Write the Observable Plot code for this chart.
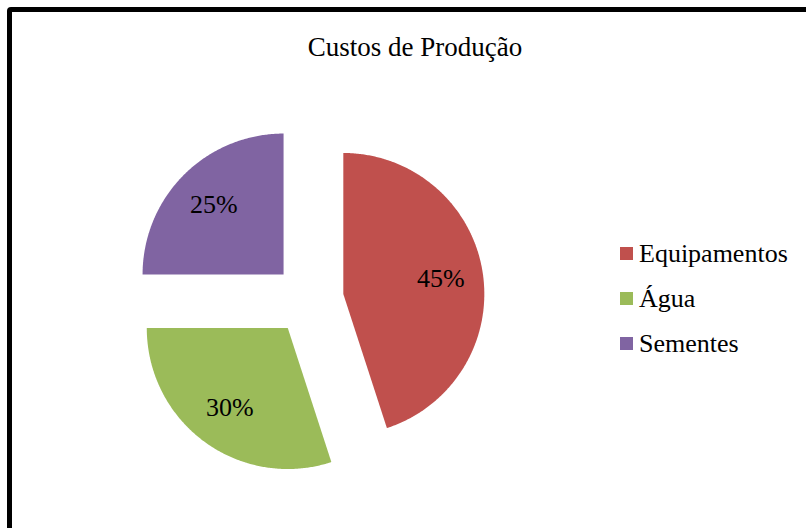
<!DOCTYPE html>
<html><head><meta charset="utf-8">
<script src="https://cdn.jsdelivr.net/npm/d3@7"></script>
<script src="https://cdn.jsdelivr.net/npm/@observablehq/plot@0.6"></script>
<style>
html,body{margin:0;padding:0;background:#fff;overflow:hidden;width:806px;height:528px}
#frame{position:absolute;left:7px;top:7px;width:900px;height:700px;border:5px solid #000;border-radius:4px;box-sizing:border-box}
#chart{position:absolute;left:0;top:0}
#title{position:absolute;left:215px;width:400px;top:34px;text-align:center;font:27px/26px "Liberation Serif","Times New Roman",serif;color:#000}
.row{position:absolute;left:620px;width:190px;height:14px}
.sw{position:absolute;left:0;top:0;width:13px;height:13px}
.lt{position:absolute;left:19px;top:-6px;font:26px/26px "Liberation Serif","Times New Roman",serif;color:#000;white-space:nowrap}
</style></head><body><div id="frame"></div><div id="chart"></div><div id="title"></div><div id="legend"></div>
<script>
const title = "Custos de Produção";
const categories = ["Equipamentos", "Água", "Sementes"];
const values = [45, 30, 25];
const labels = ["45%", "30%", "25%"];
const colors = ["#C0504D", "#9BBB59", "#8064A2"];

const explode = 0.25;      // offset of each slice (fraction of radius)
const labelR = 0.70;       // label distance from slice vertex
const total = d3.sum(values);

const pts = [];
const labelData = [];
let a = 0;
categories.forEach((cat, i) => {
  const a0 = a, a1 = a + values[i] / total * 2 * Math.PI;
  a = a1;
  const mid = (a0 + a1) / 2;
  const ox = explode * Math.sin(mid), oy = explode * Math.cos(mid);
  pts.push({cat, x: ox, y: oy});
  const n = Math.max(2, Math.ceil((a1 - a0) / (Math.PI / 360)));
  for (let k = 0; k <= n; k++) {
    const t = a0 + (a1 - a0) * k / n;
    pts.push({cat, x: ox + Math.sin(t), y: oy + Math.cos(t)});
  }
  pts.push({cat, x: ox, y: oy});
  labelData.push({cat, label: labels[i], x: ox + labelR * Math.sin(mid), y: oy + labelR * Math.cos(mid)});
});

const chart = Plot.plot({
  width: 806,
  height: 528,
  margin: 0,
  x: {domain: [-1, 1], range: [167, 449], axis: null},
  y: {domain: [-1, 1], range: [440, 158], axis: null},
  color: {domain: categories, range: colors},
  style: {background: "transparent"},
  marks: [
    Plot.line(pts, {x: "x", y: "y", z: "cat", fill: "cat", stroke: "none", curve: "linear"}),
    Plot.text(labelData, {x: "x", y: "y", text: "label", fill: "#000", fontSize: 26, textAnchor: "middle", lineAnchor: "middle"})
  ]
});
d3.select(chart).selectAll("text, g")
  .style("font-family", "'Liberation Serif', 'Times New Roman', serif", "important");
document.getElementById("chart").appendChild(chart);
document.getElementById("title").textContent = title;

const legend = document.getElementById("legend");
categories.forEach((cat, i) => {
  const row = document.createElement("div");
  row.className = "row";
  row.style.top = (247 + 45 * i) + "px";
  const sw = document.createElement("div");
  sw.className = "sw";
  sw.style.background = colors[i];
  const lt = document.createElement("div");
  lt.className = "lt";
  lt.textContent = cat;
  row.appendChild(sw);
  row.appendChild(lt);
  legend.appendChild(row);
});
</script>
</body></html>
